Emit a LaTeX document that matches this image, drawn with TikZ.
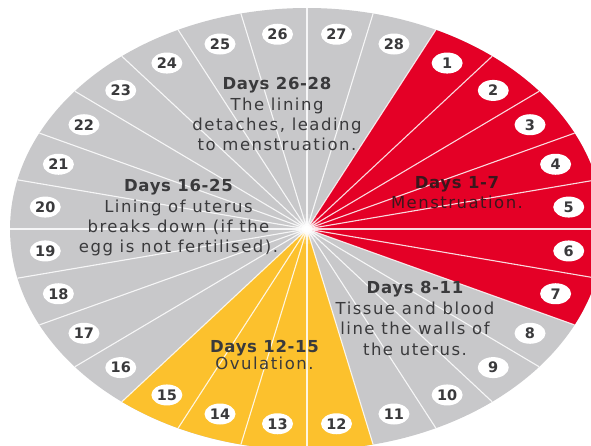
\documentclass[tikz,border=0pt]{standalone}
\usepackage{fontspec}
\setmainfont{DejaVu Sans}
\newfontfamily\bodyfont[LetterSpace=9]{DejaVu Sans}
\newfontfamily\headfont[LetterSpace=4]{DejaVu Sans}
\newfontfamily\numfont{DejaVu Sans}
\usetikzlibrary{shapes.geometric}
\definecolor{cred}{RGB}{228,0,38}
\definecolor{cgrey}{RGB}{200,200,202}
\definecolor{cyellow}{RGB}{252,193,45}
\definecolor{ctext}{RGB}{58,58,60}
\definecolor{credtext}{RGB}{60,22,28}
\tikzset{
  spoke/.style={draw=white, line width=1.1pt, opacity=0.85},
  numlbl/.style={ellipse, fill=white, minimum width=31pt, minimum height=21pt, inner sep=0pt,
    text=ctext, font=\numfont\bfseries\fontsize{14.5}{14.5}\selectfont},
  hd/.style={anchor=base, inner sep=0pt, text=ctext, font=\headfont\bfseries\fontsize{16.5}{16.5}\selectfont},
  bd/.style={anchor=base, inner sep=0pt, text=ctext, font=\bodyfont\fontsize{16.5}{16.5}\selectfont},
}
\begin{document}
\begin{tikzpicture}[x=1pt,y=-1pt]
\useasboundingbox (0,0) rectangle (591,445);
\clip (0,0) rectangle (591,445);
\coordinate (C) at (307,229);
% base disc
\fill[cgrey] (C) ellipse [x radius=297, y radius=221];
% menstruation wedge (days 1-7)
\fill[cred] (C) -- plot[domain=64.2857:-25.7143, samples=60] ({307+297*cos(\x)},{229-221*sin(\x)}) -- cycle;
% ovulation wedge (days 12-15)
\fill[cyellow] (C) -- plot[domain=-77.1429:-128.5714, samples=40] ({307+297*cos(\x)},{229-221*sin(\x)}) -- cycle;
% spokes
\foreach \k in {0,...,27}{
  \pgfmathsetmacro\tt{64.2857-12.857143*\k}
  \draw[spoke] (C) -- ({307+297*cos(\tt)},{229-221*sin(\tt)});
}
% centre glow
\foreach \r/\o in {15/0.10,11/0.2,8/0.35,5.5/0.6,3.5/1}{
  \fill[white, opacity=\o] (C) circle (\r);
}
% day labels
\foreach \d in {1,...,28}{
  \pgfmathsetmacro\tm{64.2857-12.857143*(\d-1)-6.4285714}
  \node[numlbl] (n\d) at ({307+263.4*cos(\tm)},{229-196*sin(\tm)}) {\d};
}
% Days 26-28
\node[hd] (a0) at (277,89) {Days 26-28};
\node[bd] (a1) at (277,110) {The lining};
\node[bd] (a2) at (277,130) {detaches, leading};
\node[bd] (a3) at (277,150) {to menstruation.};
% Days 16-25
\node[hd] (b0) at (178.5,191) {Days 16-25};
\node[bd] (b1) at (178.5,212) {Lining of uterus};
\node[bd] (b2) at (178.5,232) {breaks down (if the};
\node[bd] (b3) at (178.5,252) {egg is not fertilised).};
% Days 1-7
\node[hd, text=credtext] (c0) at (457,188) {Days 1-7};
\node[bd, text=credtext] (c1) at (457,208) {Menstruation.};
% Days 8-11
\node[hd] (d0) at (415,293) {Days 8-11};
\node[bd] (d1) at (415,314) {Tissue and blood};
\node[bd] (d2) at (415,334) {line the walls of};
\node[bd] (d3) at (415,355) {the uterus.};
% Days 12-15
\node[hd] (e0) at (264.5,352) {Days 12-15};
\node[bd] (e1) at (264.5,369) {Ovulation.};
\end{tikzpicture}
\end{document}
